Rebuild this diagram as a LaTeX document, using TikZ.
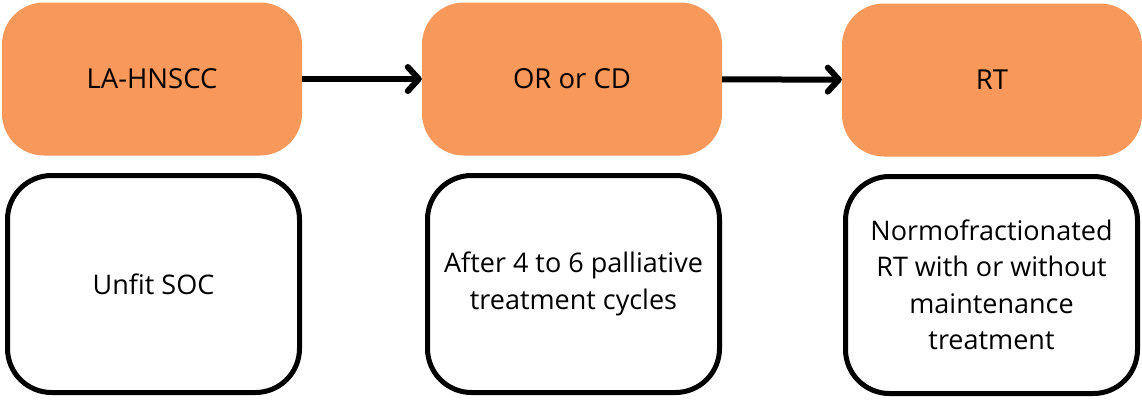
\documentclass[tikz,border=0pt]{standalone}
\usepackage{fontspec}
\setmainfont{Open Sans}
\usetikzlibrary{arrows.meta}
\definecolor{stageorange}{RGB}{248,152,90}
\begin{document}
\begin{tikzpicture}[x=1pt,y=1pt,
	stage/.style={rectangle,rounded corners=42pt,fill=stageorange,draw=none,
		minimum width=300pt,minimum height=153pt,
		font=\fontsize{27.5}{36}\selectfont},
	detail/.style={rectangle,rounded corners=44pt,draw=black,line width=5pt,fill=white,
		minimum width=292pt,minimum height=217pt,align=center,
		font=\fontsize{27}{36.5}\selectfont},
	flow/.style={line width=6pt,-{Straight Barb[length=11pt,width=24pt,line cap=round,line join=round]}}]
\useasboundingbox (0,0) rectangle (1142,-399);
\node[stage] (lahnscc) at (152,-79) {LA-HNSCC};
\node[stage] (orcd) at (572,-79) {OR or CD};
\node[stage] (rt) at (992,-80) {RT};
\node[detail] (unfit) at (153.5,-284) {Unfit SOC};
\node[detail] (cycles) at (573.5,-284) {After 4 to 6 palliative\\treatment cycles};
\node[detail] (normo) at (991.5,-285) {Normofractionated\\RT with or without\\maintenance\\treatment};
\draw[flow] (lahnscc) -- (orcd);
\draw[flow] (orcd) -- (rt);
\end{tikzpicture}
\end{document}
